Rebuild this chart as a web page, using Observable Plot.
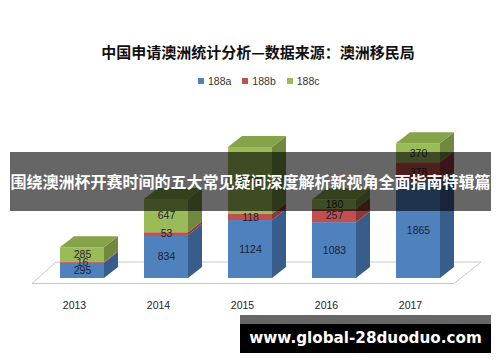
<!DOCTYPE html>
<html><head><meta charset="utf-8">
<script src="https://cdn.jsdelivr.net/npm/d3@7"></script>
<script src="https://cdn.jsdelivr.net/npm/@observablehq/plot@0.6"></script>
<style>
body{margin:0;background:#fff;}
#wrap{position:relative;width:500px;height:362px;overflow:hidden;font-family:"Noto Sans CJK SC",sans-serif;}
#chart{position:absolute;left:0;top:0;}
#title{position:absolute;left:0;top:41px;width:516px;text-align:center;font-size:15px;font-weight:bold;line-height:22px;color:#111;white-space:nowrap;}
#legend{position:absolute;top:74px;left:198px;display:flex;font-family:"Liberation Sans",sans-serif;font-size:10.5px;color:#333;line-height:14px;}
#legend .it{display:flex;align-items:center;margin-right:11px;}
#legend .sw{width:6px;height:6px;margin-right:4px;}
#banner{position:absolute;left:10px;top:152px;width:481px;height:59px;background:rgba(0,0,0,0.6);color:#fff;font-size:16px;font-weight:bold;line-height:59px;text-align:center;white-space:nowrap;}
#wm{position:absolute;left:240px;top:315px;width:251px;height:38px;box-sizing:border-box;background:#000;border-top:9px solid #666;color:#fff;font-family:"DejaVu Sans",sans-serif;font-weight:bold;font-size:15.2px;line-height:29px;text-align:center;white-space:nowrap;}
</style></head>
<body>
<div id="wrap">
  <div id="chart"></div>
  <div id="title">中国申请澳洲统计分析—数据来源：澳洲移民局</div>
  <div id="legend"></div>
  <div id="banner">围绕澳洲杯开赛时间的五大常见疑问深度解析新视角全面指南特辑篇</div>
  <div id="wm">www.global-28duoduo.com</div>
</div>
<script>
const years = ["2013", "2014", "2015", "2016", "2017"];
const seriesNames = ["188a", "188b", "188c"];
const a188 = [295, 834, 1124, 1083, 1865];
const b188 = [16, 53, 118, 257, 378];
const c188 = [285, 647, 1300, 180, 370];

const frontColors = ["#4f81bd", "#c0504d", "#9bbb59"];
const sideColors = ["#385d8a", "#8c3836", "#71893f"];
const topColor = "#86a34a";
const legendColors = ["#4f81bd", "#c0504d", "#9bbb59"];

const valuesBySeries = [a188, b188, c188];
const segs = [];
years.forEach((yr, i) => {
  let base = 0;
  seriesNames.forEach((s, j) => {
    const v = valuesBySeries[j][i];
    segs.push({year: yr, series: s, j, y1: base, y2: base + v, v, top: j === seriesNames.length - 1});
    base += v;
  });
});

// legend
const lg = document.getElementById("legend");
seriesNames.forEach((s, j) => {
  const it = document.createElement("div"); it.className = "it";
  const sw = document.createElement("div"); sw.className = "sw"; sw.style.background = legendColors[j];
  const tx = document.createElement("span"); tx.textContent = s;
  it.appendChild(sw); it.appendChild(tx); lg.appendChild(it);
});

const DX = 14, DY = 11;
const NS = "http://www.w3.org/2000/svg";
function bw(scale) { const b = scale.bandwidth; return typeof b === "function" ? b() : b; }
function poly(g, pts, fill, stroke) {
  const p = document.createElementNS(NS, "polygon");
  p.setAttribute("points", pts.map(q => q.join(",")).join(" "));
  p.setAttribute("fill", fill);
  if (stroke) { p.setAttribute("stroke", stroke); p.setAttribute("stroke-width", 1); }
  g.appendChild(p);
}

function floorMark(index, scales) {
  const g = document.createElementNS(NS, "g");
  const w = bw(scales.x);
  const xl = scales.x(years[0]) - 28;
  const xr = scales.x(years[years.length - 1]) + w + 14;
  const y0 = scales.y(0);
  poly(g, [[xl, y0 + 5.5], [xr, y0 + 5.5], [xr + 27, y0 - 16], [xl + 24, y0 - 16]], "#fff", "#c8c8c8");
  return g;
}

function faces(index, scales, values, dims, context, next) {
  const g = next(index, scales, values, dims, context);
  const w = bw(scales.x);
  for (const i of index) {
    const d = segs[i];
    const x0 = scales.x(d.year), x1 = x0 + w;
    const ya = scales.y(d.y1), yb = scales.y(d.y2);
    poly(g, [[x1, ya], [x1 + DX, ya - DY], [x1 + DX, yb - DY], [x1, yb]], sideColors[d.j]);
    if (d.top) poly(g, [[x0, yb], [x0 + DX, yb - DY], [x1 + DX, yb - DY], [x1, yb]], topColor);
  }
  return g;
}

const chart = Plot.plot({
  width: 500, height: 362,
  marginLeft: 18, marginRight: 18, marginTop: 0, marginBottom: 84,
  style: {fontFamily: "Liberation Sans, sans-serif", background: "transparent"},
  x: {type: "band", domain: years, padding: 0.48, axis: null, label: null},
  y: {domain: [0, 5390], axis: null},
  color: {domain: seriesNames, range: frontColors},
  marks: [
    floorMark,
    Plot.barY(segs, {x: "year", y1: "y1", y2: "y2", fill: "series", inset: 0, render: faces}),
    Plot.text(segs, {x: "year", y: d => (d.y1 + d.y2) / 2, text: d => String(d.v), fontSize: 10.5, fill: "#1d1d35"}),
    Plot.axisX({tickSize: 0, tickPadding: 0, dx: -8, dy: 23, fontSize: 10.5, fill: "#222", label: null})
  ]
});
document.getElementById("chart").appendChild(chart);
</script>
</body></html>
